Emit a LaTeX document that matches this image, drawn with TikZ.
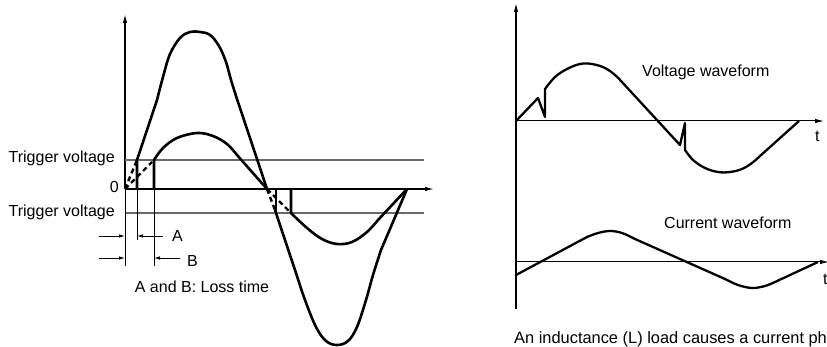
\documentclass[tikz,border=0pt]{standalone}
\usepackage{fontspec}
\setmainfont{Liberation Sans}
\usetikzlibrary{arrows.meta, positioning}
\definecolor{trigline}{RGB}{105,105,105}

\tikzset{
  wave/.style={line width=2.6pt, line join=round},
  gatedash/.style={line width=2.4pt, dash pattern=on 5pt off 3.5pt},
  axis/.style={line width=1.3pt, -{Latex[length=9pt,width=4.5pt]}},
  thinaxis/.style={line width=1pt, -{Latex[length=9pt,width=4.5pt]}},
  trig/.style={trigline, line width=1.2pt},
  dim/.style={line width=0.8pt},
  dimarrow/.style={dim, -{Latex[length=6pt,width=3.5pt]}},
  lbl/.style={font=\fontsize{16}{19}\selectfont, inner sep=0pt},
}

\begin{document}
\begin{tikzpicture}[x=1pt, y=-1pt]
  \useasboundingbox (0,0) rectangle (827,347);
  % left: trigger voltage and loss time
  \coordinate (O) at (125,189);
  \coordinate (Otop) at (125,14);
  \coordinate (Oend) at (434,189);
  \coordinate (tA) at (137,189);
  \coordinate (tB) at (154,189);
  \draw[axis] (O) -- (Otop);
  \draw[axis] (O) -- (Oend);
  \draw[trig] (125,160) -- (424,160);
  \draw[trig] (125,213) -- (424,213);
  \node[lbl, anchor=base east] (trigup) at (115,163) {Trigger voltage};
  \node[lbl, anchor=base east] (triglow) at (115,217) {Trigger voltage};
  \node[lbl, anchor=base east] (zero) at (119,193) {0};
  % large wave
  \draw[gatedash] (O) -- (137,160);
  \draw[wave] (tA) -- (137,160) -- (157,100)
    -- plot[smooth, tension=0.6] coordinates {(157,100) (163,77) (170,54) (180,38) (190,32) (200,32) (210,35) (219,46) (226,62) (231,80) (237,99)}
    -- (267,189);
  \draw[gatedash] (267,189) -- (275,210);
  \draw[wave] (276,189) -- (276,211);
  \draw[wave] plot[smooth, tension=0.6] coordinates {(275,210) (285,240) (295,270) (305,300) (316,327) (326,341) (337,345) (348,341) (357,327) (366,300) (373,275) (381,250)}
    -- (407,189);
  % small wave
  \draw[gatedash] (O) -- (152,162);
  \draw[wave] (tB) -- (154,160)
    -- plot[smooth, tension=0.6] coordinates {(154,160) (163,148) (177,138) (197,133) (213,136) (227,144) (237,155)}
    -- (267,189);
  \draw[gatedash] (267,189) -- (289,211);
  \draw[wave] (291,189) -- (291,213)
    -- plot[smooth, tension=0.6] coordinates {(291,213) (307,228) (322,239) (337,244) (352,242) (367,232) (378,220)}
    -- (407,189);
  % loss time A and B
  \draw[dim] (O) -- (125,266);
  \draw[dim] (tA) -- (137,240);
  \draw[dim] (tB) -- (154,266);
  \draw[dimarrow] (99,236) -- (125,236);
  \draw[dimarrow] (163,236) -- (137,236);
  \node[lbl, anchor=base west] (lblA) at (172,242) {A};
  \draw[dimarrow] (99,258) -- (125,258);
  \draw[dimarrow] (180,258) -- (154,258);
  \node[lbl, anchor=base west] (lblB) at (187,267) {B};
  \node[lbl, anchor=base] (loss) at (202,293) {A and B: Loss time};

  % right: inductive load
  \coordinate (P) at (516,309);
  \coordinate (Ptop) at (516,3);
  \coordinate (V0) at (516,121);
  \coordinate (Vend) at (824,121);
  \coordinate (I0) at (516,262);
  \coordinate (Iend) at (829,262);
  \draw[axis] (P) -- (Ptop);
  \draw[thinaxis] (V0) -- (Vend);
  \draw[thinaxis] (I0) -- (Iend);
  \node[lbl, anchor=base west] (tV) at (815,142) {t};
  \node[lbl, anchor=base west] (tI) at (823,285) {t};
  % voltage
  \draw[wave, line width=2.3pt] (V0) -- (538,98) -- (545,117) -- (545,89)
    -- plot[smooth, tension=0.6] coordinates {(545,89) (555,77) (567,69) (580,64) (592,64) (605,68) (615,75) (621,81)}
    -- (680,145) -- (685,123) -- (685,150)
    -- plot[smooth, tension=0.6] coordinates {(685,150) (693,160) (705,168) (718,172) (730,172) (742,169) (752,163) (760,156)}
    -- (799,121);
  \node[lbl, anchor=base west] (vlbl) at (642,77) {Voltage waveform};
  % current
  \draw[wave, line width=2.3pt] (516,275) -- (587,237)
    -- plot[smooth, tension=0.6] coordinates {(587,237) (598,233) (610,231) (622,233) (635,239)}
    -- (725,279)
    -- plot[smooth, tension=0.6] coordinates {(725,279) (738,285) (752,288) (765,286) (775,282)}
    -- (818,262);
  \node[lbl, anchor=base west] (ilbl) at (664,229) {Current waveform};
  \node[lbl, anchor=base west, font=\fontsize{16.4}{19}\selectfont] (caption) at (514,343) {An inductance (L) load causes a current ph};
\end{tikzpicture}
\end{document}
